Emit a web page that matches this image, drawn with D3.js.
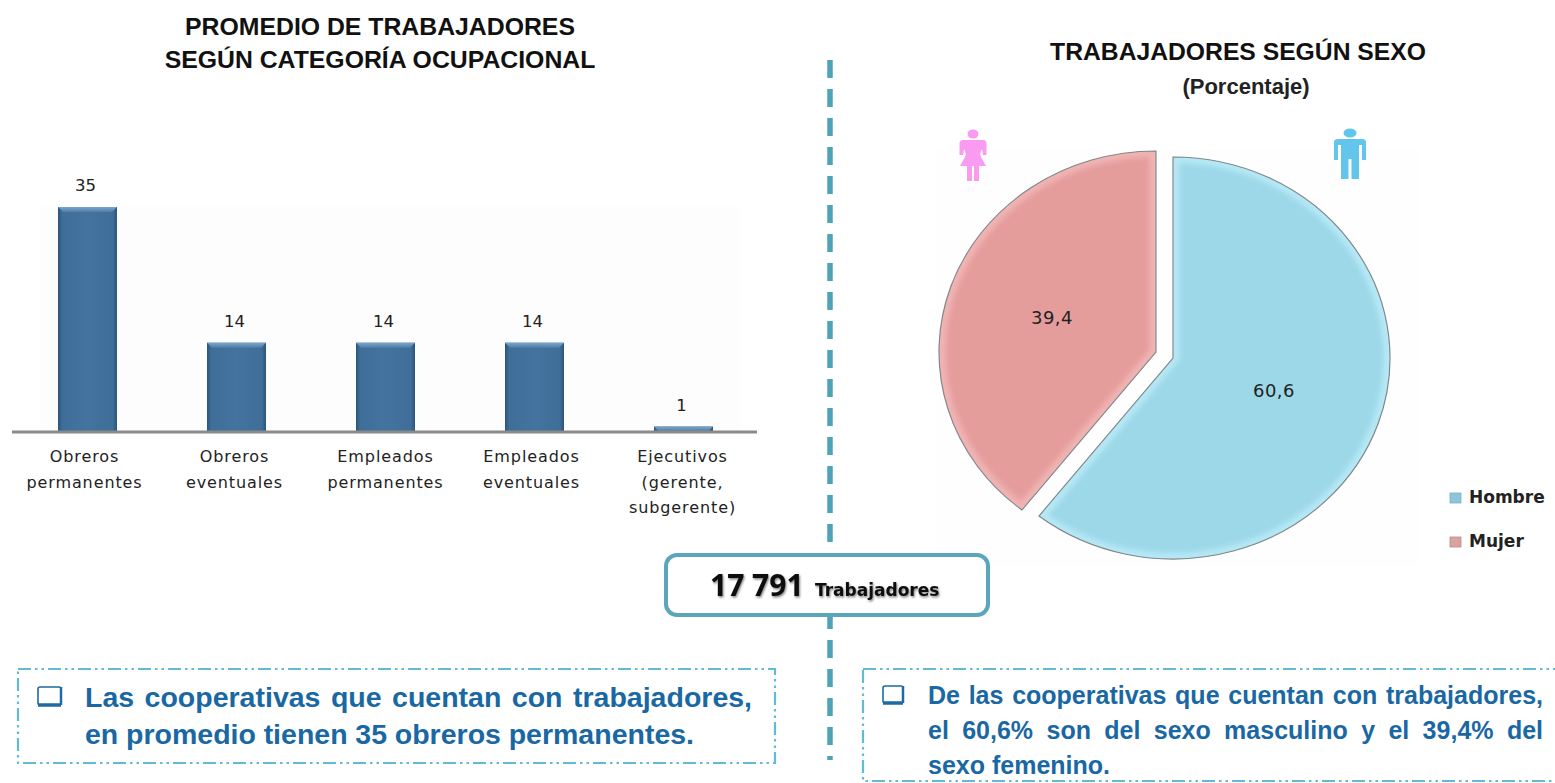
<!DOCTYPE html>
<html><head><meta charset="utf-8">
<script src="https://cdn.jsdelivr.net/npm/d3@7"></script>
<style>
html,body{margin:0;padding:0;background:#fff;overflow:hidden}
svg{display:block}
text{font-family:"Liberation Sans",Arial,sans-serif}
.lab{font-family:"DejaVu Sans",sans-serif;fill:#222}
</style></head><body><svg id="c" width="1555" height="783"></svg>
<script>
const categories=[["Obreros","permanentes"],["Obreros","eventuales"],["Empleados","permanentes"],["Empleados","eventuales"],["Ejecutivos","(gerente,","subgerente)"]];
const barValues=[35,13.8,13.8,13.8,0.7];
const barLabels=["35","14","14","14","1"];
const sexLabels=["Hombre","Mujer"];
const sexValues=[60.6,39.4];
const sexValueLabels=["60,6","39,4"];
const sexColors=["#9dd8e9","#e59d9c"];
const sexRims=["#b6e8f5","#f0b4b3"];
const titleLeft=["PROMEDIO DE TRABAJADORES","SEGÚN CATEGORÍA OCUPACIONAL"];
const noteLeft=["Las cooperativas que cuentan con trabajadores,","en promedio tienen 35 obreros permanentes."];
const noteRight=["De las cooperativas que cuentan con trabajadores,","el 60,6% son del sexo masculino y el 39,4% del","sexo femenino."];

const svg=d3.select("#c");
const defs=svg.append("defs");
const g1=defs.append("linearGradient").attr("id","barG").attr("x1",0).attr("x2",1).attr("y1",0).attr("y2",0);
[[0,"#2c5578"],[.07,"#3f6e99"],[.5,"#44739f"],[.93,"#3f6e99"],[1,"#2c5578"]].forEach(s=>g1.append("stop").attr("offset",s[0]).attr("stop-color",s[1]));
const g2=defs.append("linearGradient").attr("id","bevelG").attr("x1",0).attr("x2",0).attr("y1",0).attr("y2",1);
[[0,"#7ea6c9"],[1,"#4f7ea9"]].forEach(s=>g2.append("stop").attr("offset",s[0]).attr("stop-color",s[1]));
defs.append("filter").attr("id","blur").append("feGaussianBlur").attr("stdDeviation",2.5);
const sh=defs.append("filter").attr("id","shadow").attr("x","-10%").attr("y","-30%").attr("width","120%").attr("height","170%");
sh.append("feDropShadow").attr("dx",1).attr("dy",1.5).attr("stdDeviation",1.2).attr("flood-color","#000").attr("flood-opacity",.5);

// faint image backgrounds
svg.append("rect").attr("x",40).attr("y",207).attr("width",700).attr("height",224).attr("fill","#fdfdfd");
svg.append("rect").attr("x",935).attr("y",150).attr("width",485).attr("height",415).attr("fill","#fefefe");

// titles
svg.selectAll(".tl").data(titleLeft).join("text").attr("x",380).attr("y",(d,i)=>35+i*33)
  .attr("text-anchor","middle").attr("font-size",24.8).attr("font-weight",700).attr("fill","#111").text(d=>d);
svg.append("text").attr("x",1238).attr("y",60).attr("text-anchor","middle").attr("font-size",24.7).attr("font-weight",700).attr("fill","#111").text("TRABAJADORES SEGÚN SEXO");
svg.append("text").attr("x",1246).attr("y",94).attr("text-anchor","middle").attr("font-size",22).attr("font-weight",700).attr("fill","#222").text("(Porcentaje)");

// bar chart
const x=d3.scaleBand().domain(d3.range(categories.length)).range([13,758]).paddingInner(.604).paddingOuter(.302);
const y=d3.scaleLinear().domain([0,35]).range([431,207]);
const bars=svg.append("g");
bars.selectAll("rect.b").data(barValues).join("rect").attr("class","b")
  .attr("x",(d,i)=>x(i)).attr("y",d=>y(d)).attr("width",x.bandwidth()).attr("height",d=>y(0)-y(d)).attr("fill","url(#barG)");
bars.selectAll("path.t").data(barValues).join("path").attr("class","t").attr("fill","url(#bevelG)")
  .attr("d",(d,i)=>{const a=x(i),b=a+x.bandwidth(),t=y(d),h=Math.min(5,y(0)-t);
    return `M${a},${t}L${b},${t}L${b-h},${t+h}L${a+h},${t+h}Z`;});
svg.append("line").attr("x1",12).attr("x2",757).attr("y1",432).attr("y2",432).attr("stroke","#8a8a8a").attr("stroke-width",3);
svg.selectAll(".v").data(barLabels).join("text").attr("class","lab v").attr("text-anchor","middle")
  .attr("x",(d,i)=>x(i)+x.bandwidth()/2-2).attr("y",(d,i)=>y(barValues[i])-16).attr("font-size",16.5).text(d=>d);
const catShift=[-3,-2,0,-3,-1];
const cat=svg.selectAll(".cat").data(categories).join("text").attr("class","lab cat").attr("text-anchor","middle").attr("font-size",16).attr("letter-spacing",.9);
cat.selectAll("tspan").data((d,i)=>d.map(s=>({s,i}))).join("tspan")
  .attr("x",d=>x(d.i)+x.bandwidth()/2+catShift[d.i]).attr("y",(d,j)=>462+j*25.5).text(d=>d.s);

// pie
const pie=d3.pie().sort(null).value(d=>d)(sexValues);
const R=201, sx=217/201;
const arc=d3.arc().innerRadius(0).outerRadius(R);
const centers=[[1173,358],[1156,352]];
pie.forEach((p,i)=>{
  const id="clip"+i;
  defs.append("clipPath").attr("id",id).append("path").attr("d",arc(p));
  const g=svg.append("g").attr("transform",`translate(${centers[i][0]},${centers[i][1]}) scale(${sx},1)`);
  g.append("path").attr("d",arc(p)).attr("fill",sexColors[i]);
  g.append("g").attr("clip-path",`url(#${id})`).append("path").attr("d",arc(p)).attr("fill","none")
    .attr("stroke",sexRims[i]).attr("stroke-width",12).attr("filter","url(#blur)");
  g.append("path").attr("d",arc(p)).attr("fill","none").attr("stroke","#80888c").attr("stroke-width",1.1);
});
svg.append("text").attr("class","lab").attr("x",1274).attr("y",397).attr("text-anchor","middle").attr("font-size",18).attr("letter-spacing",.5).attr("fill","#1d3a48").text(sexValueLabels[0]);
svg.append("text").attr("class","lab").attr("x",1052).attr("y",324).attr("text-anchor","middle").attr("font-size",18).attr("letter-spacing",.5).attr("fill","#3a1414").text(sexValueLabels[1]);

// person icons
function man(cx,top,c){const g=svg.append("g").attr("fill",c).attr("transform",`translate(${cx},${top})`);
  g.append("ellipse").attr("cx",0).attr("cy",4).attr("rx",6.5).attr("ry",4.5);
  g.append("path").attr("d","M-16,13Q-16,10 -12,10L12,10Q16,10 16,13L16,31L12,31L12,16L9,16L9,50L1.5,50L1.5,30L-1.5,30L-1.5,50L-9,50L-9,16L-12,16L-12,31L-16,31Z");}
function woman(cx,top,c){const g=svg.append("g").attr("fill",c).attr("transform",`translate(${cx},${top})`);
  g.append("ellipse").attr("cx",0).attr("cy",5).attr("rx",5.5).attr("ry",4.5);
  g.append("path").attr("d","M-10,11L10,11Q13.5,11 13.5,15L13.5,26L10,26L9,20L7,25L8,28L13,37L6,37L6,52L1,52L1,37L-1,37L-1,52L-6,52L-6,37L-13,37L-8,28L-7,25L-9,20L-10,26L-13.5,26L-13.5,15Q-13.5,11 -10,11Z");}
woman(973,129,"#f99bf0");
man(1350,129,"#62c6ec");

// legend
const leg=svg.selectAll(".leg").data(sexLabels).join("g").attr("class","leg").attr("transform",(d,i)=>`translate(1450,${493+i*44})`);
leg.append("rect").attr("width",11).attr("height",10).attr("fill",(d,i)=>i?"#d9a3a3":"#8cc5d9").attr("stroke",(d,i)=>i?"#b98a8a":"#7ab0c4").attr("stroke-width",.8);
leg.append("text").attr("class","lab").attr("x",19).attr("y",10).attr("font-size",17).attr("font-weight",700).attr("fill","#2a2a2a").text(d=>d);

// divider
svg.append("line").attr("x1",830).attr("x2",830).attr("y1",60).attr("y2",760).attr("stroke","#4fa3b8").attr("stroke-width",5.5).attr("stroke-dasharray","18 11");

// total box
svg.append("rect").attr("x",666).attr("y",555).attr("width",322).attr("height",60).attr("rx",11).attr("fill","#fff").attr("stroke","#5ba6ba").attr("stroke-width",4);
const tot=svg.append("text").attr("y",596).attr("filter","url(#shadow)").attr("fill","#0c0c0c").attr("font-weight",700);
tot.append("tspan").attr("x",710).attr("font-size",30).style("font-family","'Open Sans',sans-serif").text("17 791");
tot.append("tspan").attr("x",815).attr("font-size",17).style("font-family","'DejaVu Sans',sans-serif").text("Trabajadores");

// note boxes
const dash="13 4 2.5 4 2.5 4";
svg.append("rect").attr("x",18).attr("y",669).attr("width",757).attr("height",94).attr("fill","#fff").attr("stroke","#62bbd3").attr("stroke-width",2.2).attr("stroke-dasharray",dash);
svg.append("rect").attr("x",863).attr("y",669).attr("width",720).attr("height",112).attr("fill","#fff").attr("stroke","#62bbd3").attr("stroke-width",2.2).attr("stroke-dasharray",dash);
function check(xx,yy,w,h){
  svg.append("rect").attr("x",xx).attr("y",yy).attr("width",w).attr("height",h).attr("rx",2).attr("fill","none").attr("stroke","#1f6aa0").attr("stroke-width",1.6);
  svg.append("line").attr("x1",xx).attr("x2",xx+w).attr("y1",yy+h).attr("y2",yy+h).attr("stroke","#1f6aa0").attr("stroke-width",3.5);
  svg.append("line").attr("x1",xx+w).attr("x2",xx+w).attr("y1",yy).attr("y2",yy+h).attr("stroke","#1f6aa0").attr("stroke-width",2.5);
}
check(38,687,23,18);
check(883,686,20,17);
// justify a line to a target width by widening its word gaps
function justify(sel,targets){sel.each(function(d,i){
  const t=targets[i],n=d.split(" ").length-1,w=this.getComputedTextLength();
  if(t&&n) d3.select(this).attr("word-spacing",(t-w)/n);
});}
const nl=svg.selectAll(".nl").data(noteLeft).join("text").attr("class","nl").attr("x",85).attr("y",(d,i)=>707+i*37).attr("font-size",28.5).attr("font-weight",700).attr("fill","#1a68a3").text(d=>d);
justify(nl,[667,609]);
const nr=svg.selectAll(".nr").data(noteRight).join("text").attr("class","nr").attr("x",928).attr("y",(d,i)=>704+i*35).attr("font-size",25).attr("font-weight",700).attr("fill","#1a68a3").text(d=>d);
justify(nr,[615,615,0]);
</script></body></html>
